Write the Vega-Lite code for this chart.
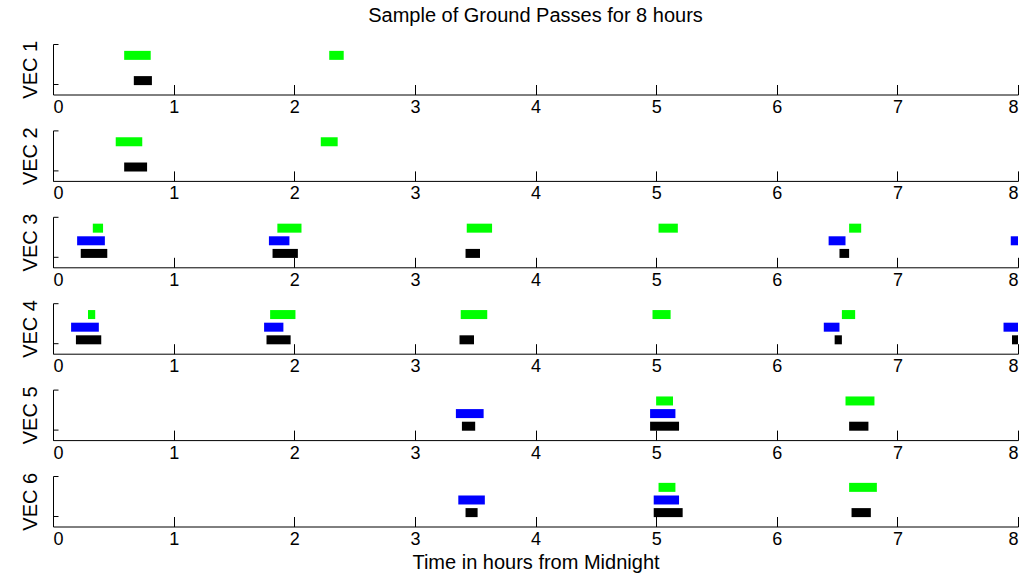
{
  "$schema": "https://vega.github.io/schema/vega-lite/v6.json",
  "autosize": {"type": "pad"},
  "padding": {"left": 20, "top": 6, "right": 5, "bottom": 3},
  "background": "white",
  "title": {"text": "Sample of Ground Passes for 8 hours", "fontSize": 20, "font": "Liberation Sans", "fontWeight": "normal", "color": "black", "anchor": "middle", "offset": 14, "dx": 14},
  "bounds": "flush",
  "spacing": 35.4,
  "config": {
    "view": {"stroke": null},
    "axis": {"grid": false, "domainColor": "#000000", "tickColor": "#000000", "labelColor": "#000000", "titleColor": "#000000", "labelFont": "Liberation Sans", "titleFont": "Liberation Sans", "labelFontSize": 18, "titleFontSize": 20, "titleFontWeight": "normal", "domainWidth": 1, "tickWidth": 1}
  },
  "datasets": {
    "passes": [
      {"vec": "VEC 1", "station": "GS3", "track": 3, "start": 0.59, "end": 0.81},
      {"vec": "VEC 1", "station": "GS3", "track": 3, "start": 2.29, "end": 2.41},
      {"vec": "VEC 1", "station": "GS1", "track": 1, "start": 0.67, "end": 0.82},
      {"vec": "VEC 2", "station": "GS3", "track": 3, "start": 0.52, "end": 0.74},
      {"vec": "VEC 2", "station": "GS3", "track": 3, "start": 2.22, "end": 2.36},
      {"vec": "VEC 2", "station": "GS1", "track": 1, "start": 0.59, "end": 0.78},
      {"vec": "VEC 3", "station": "GS3", "track": 3, "start": 0.33, "end": 0.415},
      {"vec": "VEC 3", "station": "GS3", "track": 3, "start": 1.86, "end": 2.06},
      {"vec": "VEC 3", "station": "GS3", "track": 3, "start": 3.43, "end": 3.64},
      {"vec": "VEC 3", "station": "GS3", "track": 3, "start": 5.02, "end": 5.18},
      {"vec": "VEC 3", "station": "GS3", "track": 3, "start": 6.6, "end": 6.7},
      {"vec": "VEC 3", "station": "GS2", "track": 2, "start": 0.2, "end": 0.43},
      {"vec": "VEC 3", "station": "GS2", "track": 2, "start": 1.79, "end": 1.96},
      {"vec": "VEC 3", "station": "GS2", "track": 2, "start": 6.43, "end": 6.57},
      {"vec": "VEC 3", "station": "GS2", "track": 2, "start": 7.94, "end": 8.0},
      {"vec": "VEC 3", "station": "GS1", "track": 1, "start": 0.23, "end": 0.45},
      {"vec": "VEC 3", "station": "GS1", "track": 1, "start": 1.82, "end": 2.03},
      {"vec": "VEC 3", "station": "GS1", "track": 1, "start": 3.42, "end": 3.54},
      {"vec": "VEC 3", "station": "GS1", "track": 1, "start": 6.52, "end": 6.6},
      {"vec": "VEC 4", "station": "GS3", "track": 3, "start": 0.29, "end": 0.35},
      {"vec": "VEC 4", "station": "GS3", "track": 3, "start": 1.8, "end": 2.01},
      {"vec": "VEC 4", "station": "GS3", "track": 3, "start": 3.38, "end": 3.6},
      {"vec": "VEC 4", "station": "GS3", "track": 3, "start": 4.97, "end": 5.12},
      {"vec": "VEC 4", "station": "GS3", "track": 3, "start": 6.54, "end": 6.65},
      {"vec": "VEC 4", "station": "GS2", "track": 2, "start": 0.15, "end": 0.38},
      {"vec": "VEC 4", "station": "GS2", "track": 2, "start": 1.75, "end": 1.91},
      {"vec": "VEC 4", "station": "GS2", "track": 2, "start": 6.39, "end": 6.52},
      {"vec": "VEC 4", "station": "GS2", "track": 2, "start": 7.88, "end": 8.0},
      {"vec": "VEC 4", "station": "GS1", "track": 1, "start": 0.19, "end": 0.4},
      {"vec": "VEC 4", "station": "GS1", "track": 1, "start": 1.77, "end": 1.97},
      {"vec": "VEC 4", "station": "GS1", "track": 1, "start": 3.37, "end": 3.49},
      {"vec": "VEC 4", "station": "GS1", "track": 1, "start": 6.48, "end": 6.54},
      {"vec": "VEC 4", "station": "GS1", "track": 1, "start": 7.95, "end": 8.0},
      {"vec": "VEC 5", "station": "GS3", "track": 3, "start": 5.0, "end": 5.14},
      {"vec": "VEC 5", "station": "GS3", "track": 3, "start": 6.57, "end": 6.81},
      {"vec": "VEC 5", "station": "GS2", "track": 2, "start": 3.34, "end": 3.57},
      {"vec": "VEC 5", "station": "GS2", "track": 2, "start": 4.95, "end": 5.16},
      {"vec": "VEC 5", "station": "GS1", "track": 1, "start": 3.39, "end": 3.5},
      {"vec": "VEC 5", "station": "GS1", "track": 1, "start": 4.95, "end": 5.19},
      {"vec": "VEC 5", "station": "GS1", "track": 1, "start": 6.6, "end": 6.76},
      {"vec": "VEC 6", "station": "GS3", "track": 3, "start": 5.02, "end": 5.16},
      {"vec": "VEC 6", "station": "GS3", "track": 3, "start": 6.6, "end": 6.83},
      {"vec": "VEC 6", "station": "GS2", "track": 2, "start": 3.36, "end": 3.58},
      {"vec": "VEC 6", "station": "GS2", "track": 2, "start": 4.98, "end": 5.19},
      {"vec": "VEC 6", "station": "GS1", "track": 1, "start": 3.42, "end": 3.52},
      {"vec": "VEC 6", "station": "GS1", "track": 1, "start": 4.98, "end": 5.22},
      {"vec": "VEC 6", "station": "GS1", "track": 1, "start": 6.62, "end": 6.78}
    ]
  },
  "data": {"name": "passes"},
  "vconcat": [
    {
      "width": 965, "height": 50.5,
      "transform": [{"filter": "datum.vec == 'VEC 1'"}],
      "mark": {"type": "rule", "strokeWidth": 9, "strokeCap": "butt"},
      "encoding": {
        "x": {"field": "start", "type": "quantitative", "scale": {"domain": [0, 8], "nice": false}, "axis": {"title": null, "values": [0,1,2,3,4,5,6,7,8], "format": "d", "tickSize": -10, "labelPadding": 14}},
        "x2": {"field": "end"},
        "y": {"field": "track", "type": "quantitative", "scale": {"domain": [-0.1, 3.9], "nice": false, "zero": false}, "axis": {"title": "VEC 1", "values": [0.75, 3.9], "labels": false, "tickSize": -5, "titlePadding": 12}},
        "color": {"field": "station", "type": "nominal", "scale": {"domain": ["GS1", "GS2", "GS3"], "range": ["#000000", "#0000ff", "#00ff00"]}, "legend": null}
      }
    },
    {
      "width": 965, "height": 50.5,
      "transform": [{"filter": "datum.vec == 'VEC 2'"}],
      "mark": {"type": "rule", "strokeWidth": 9, "strokeCap": "butt"},
      "encoding": {
        "x": {"field": "start", "type": "quantitative", "scale": {"domain": [0, 8], "nice": false}, "axis": {"title": null, "values": [0,1,2,3,4,5,6,7,8], "format": "d", "tickSize": -10, "labelPadding": 14}},
        "x2": {"field": "end"},
        "y": {"field": "track", "type": "quantitative", "scale": {"domain": [-0.1, 3.9], "nice": false, "zero": false}, "axis": {"title": "VEC 2", "values": [0.75, 3.9], "labels": false, "tickSize": -5, "titlePadding": 12}},
        "color": {"field": "station", "type": "nominal", "scale": {"domain": ["GS1", "GS2", "GS3"], "range": ["#000000", "#0000ff", "#00ff00"]}, "legend": null}
      }
    },
    {
      "width": 965, "height": 50.5,
      "transform": [{"filter": "datum.vec == 'VEC 3'"}],
      "mark": {"type": "rule", "strokeWidth": 9, "strokeCap": "butt"},
      "encoding": {
        "x": {"field": "start", "type": "quantitative", "scale": {"domain": [0, 8], "nice": false}, "axis": {"title": null, "values": [0,1,2,3,4,5,6,7,8], "format": "d", "tickSize": -10, "labelPadding": 14}},
        "x2": {"field": "end"},
        "y": {"field": "track", "type": "quantitative", "scale": {"domain": [-0.1, 3.9], "nice": false, "zero": false}, "axis": {"title": "VEC 3", "values": [0.75, 3.9], "labels": false, "tickSize": -5, "titlePadding": 12}},
        "color": {"field": "station", "type": "nominal", "scale": {"domain": ["GS1", "GS2", "GS3"], "range": ["#000000", "#0000ff", "#00ff00"]}, "legend": null}
      }
    },
    {
      "width": 965, "height": 50.5,
      "transform": [{"filter": "datum.vec == 'VEC 4'"}],
      "mark": {"type": "rule", "strokeWidth": 9, "strokeCap": "butt"},
      "encoding": {
        "x": {"field": "start", "type": "quantitative", "scale": {"domain": [0, 8], "nice": false}, "axis": {"title": null, "values": [0,1,2,3,4,5,6,7,8], "format": "d", "tickSize": -10, "labelPadding": 14}},
        "x2": {"field": "end"},
        "y": {"field": "track", "type": "quantitative", "scale": {"domain": [-0.1, 3.9], "nice": false, "zero": false}, "axis": {"title": "VEC 4", "values": [0.75, 3.9], "labels": false, "tickSize": -5, "titlePadding": 12}},
        "color": {"field": "station", "type": "nominal", "scale": {"domain": ["GS1", "GS2", "GS3"], "range": ["#000000", "#0000ff", "#00ff00"]}, "legend": null}
      }
    },
    {
      "width": 965, "height": 50.5,
      "transform": [{"filter": "datum.vec == 'VEC 5'"}],
      "mark": {"type": "rule", "strokeWidth": 9, "strokeCap": "butt"},
      "encoding": {
        "x": {"field": "start", "type": "quantitative", "scale": {"domain": [0, 8], "nice": false}, "axis": {"title": null, "values": [0,1,2,3,4,5,6,7,8], "format": "d", "tickSize": -10, "labelPadding": 14}},
        "x2": {"field": "end"},
        "y": {"field": "track", "type": "quantitative", "scale": {"domain": [-0.1, 3.9], "nice": false, "zero": false}, "axis": {"title": "VEC 5", "values": [0.75, 3.9], "labels": false, "tickSize": -5, "titlePadding": 12}},
        "color": {"field": "station", "type": "nominal", "scale": {"domain": ["GS1", "GS2", "GS3"], "range": ["#000000", "#0000ff", "#00ff00"]}, "legend": null}
      }
    },
    {
      "width": 965, "height": 50.5,
      "transform": [{"filter": "datum.vec == 'VEC 6'"}],
      "mark": {"type": "rule", "strokeWidth": 9, "strokeCap": "butt"},
      "encoding": {
        "x": {"field": "start", "type": "quantitative", "scale": {"domain": [0, 8], "nice": false}, "axis": {"title": "Time in hours from Midnight", "values": [0,1,2,3,4,5,6,7,8], "format": "d", "tickSize": -10, "labelPadding": 14, "titlePadding": 4}},
        "x2": {"field": "end"},
        "y": {"field": "track", "type": "quantitative", "scale": {"domain": [-0.1, 3.9], "nice": false, "zero": false}, "axis": {"title": "VEC 6", "values": [0.75, 3.9], "labels": false, "tickSize": -5, "titlePadding": 12}},
        "color": {"field": "station", "type": "nominal", "scale": {"domain": ["GS1", "GS2", "GS3"], "range": ["#000000", "#0000ff", "#00ff00"]}, "legend": null}
      }
    }
  ]
}
